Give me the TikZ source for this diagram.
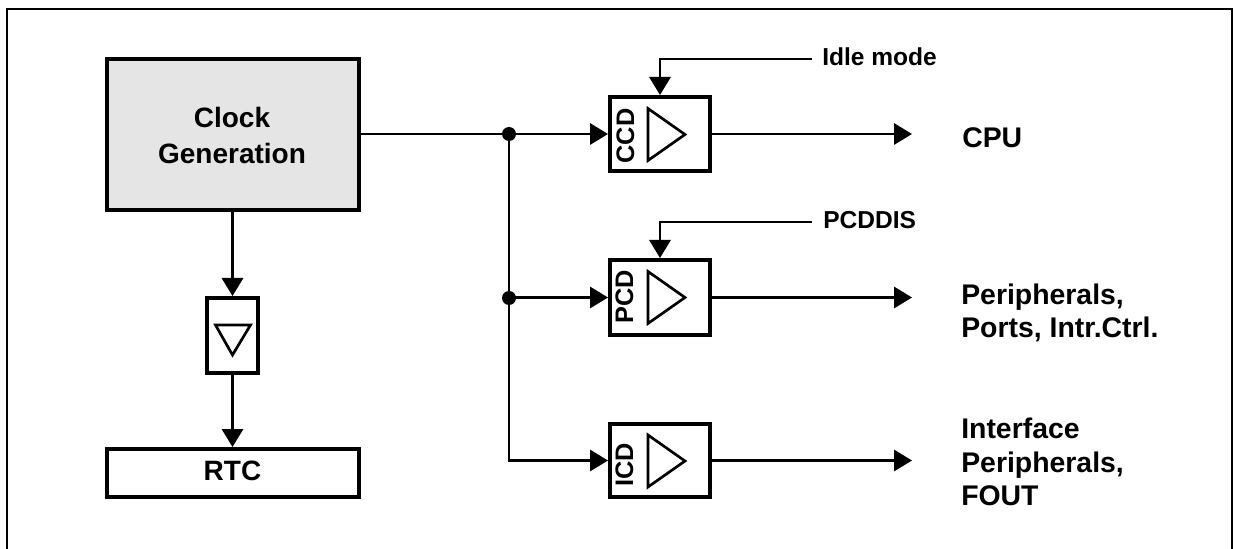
\documentclass[tikz,border=0pt]{standalone}
\usepackage{fontspec}
\setmainfont{Liberation Sans}
\usetikzlibrary{arrows.meta}
\definecolor{clockgrey}{HTML}{E5E5E5}
\tikzset{
  wire/.style={line width=1.6pt,line cap=butt},
  arrowed/.style={wire,-{Triangle[length=13.5pt,width=16pt]}},
  blockbox/.style={draw,line width=3pt,rectangle,inner sep=0pt,fill=white},
  driverbox/.style={blockbox,minimum width=75pt,minimum height=55.5pt},
  amp/.style={draw,line width=2pt,miter limit=10,line join=miter,fill=white},
  joint/.style={circle,fill=black,inner sep=0pt,minimum size=10.5pt},
  biglabel/.style={font=\bfseries\fontsize{21.3}{25}\selectfont,inner sep=0pt,anchor=base west,align=left},
  biglabelc/.style={font=\bfseries\fontsize{21}{25}\selectfont,inner sep=0pt,anchor=base},
  smalllabel/.style={font=\bfseries\fontsize{18.4}{22}\selectfont,inner sep=0pt,anchor=base west},
  sidelabel/.style={font=\bfseries\fontsize{19}{22}\selectfont,inner sep=0pt,anchor=base,rotate=90},
}
\begin{document}
\begin{tikzpicture}[x=0.75pt,y=-0.75pt]
\useasboundingbox (0,0) rectangle (1233,549);
% outer frame, open at the bottom
\draw[line width=1.75pt,line join=miter] (7.2,549) -- (7.2,9.2) -- (1231.8,9.2) -- (1231.8,549);
% blocks
\node[blockbox,fill=clockgrey,minimum width=189pt,minimum height=113.25pt] (clock) at (233,134.5) {};
\node[blockbox,minimum width=38.25pt,minimum height=56.25pt] (div) at (232.5,335.5) {};
\node[blockbox,minimum width=189pt,minimum height=36pt] (rtc) at (233,473) {};
\node[driverbox,minimum height=55.5pt] (ccd) at (660,134) {};
\node[driverbox,minimum height=56.25pt] (pcd) at (660,297.5) {};
\node[driverbox,minimum height=54.75pt] (icd) at (660,460.5) {};
% amplifier triangles
\draw[amp] (215.5,325) -- (250.5,325) -- (232.5,355) -- cycle;
\draw[amp] (648,108.5) -- (685,134.5) -- (648,160.5) -- cycle;
\draw[amp] (648,271.5) -- (685,297.5) -- (648,323.5) -- cycle;
\draw[amp] (648,435) -- (685,461) -- (648,487) -- cycle;
% texts
\node[biglabelc] (tclock) at (232,127.5) {Clock};
\node[biglabelc] (tgen) at (232,163.5) {Generation};
\node[biglabelc] (trtc) at (232.5,480.5) {RTC};
\node[sidelabel] (tccd) at (634,136) {CCD};
\node[sidelabel] (tpcd) at (633,297) {PCD};
\node[sidelabel] (ticd) at (633,465) {ICD};
\node[smalllabel] (idle) at (822,66) {Idle mode};
\node[smalllabel] (pcddis) at (823,229) {PCDDIS};
\node[biglabel] (cpu) at (962,147.5) {CPU};
\node[biglabel] (per) at (961,304.5) {Peripherals,};
\node[biglabel] (ports) at (961,337.5) {Ports, Intr.Ctrl.};
\node[biglabel] (iface) at (961,438.5) {Interface};
\node[biglabel] (iper) at (961,472) {Peripherals,};
\node[biglabel] (fout) at (961,505.5) {FOUT};
% junctions
\node[joint] (dot1) at (509,134) {};
\node[joint] (dot2) at (509,298) {};
% free ends
\coordinate (idleend) at (812,59);
\coordinate (pcdend) at (812,222);
\coordinate (cpuend) at (912,134);
\coordinate (perend) at (912,297.5);
\coordinate (ifend) at (912,460.5);
% connectors
\draw[wire] (clock.east |- ccd.west) -- (dot1.center);
\draw[arrowed] (dot1.center) -- (ccd.west);
\draw[wire] (dot1.center) -- (dot2.center);
\draw[arrowed] (dot2.center |- pcd.west) -- (pcd.west);
\draw[arrowed] (dot2.center) |- (icd.west);
\draw[arrowed] (idleend) -| (ccd.north);
\draw[arrowed] (pcdend) -| (pcd.north);
\draw[arrowed] (ccd.east) -- (cpuend);
\draw[arrowed] (pcd.east) -- (perend);
\draw[arrowed] (icd.east) -- (ifend);
\draw[arrowed] (clock.south -| div.north) -- (div.north);
\draw[arrowed] (div.south) -- (rtc.north -| div.south);
\end{tikzpicture}
\end{document}
